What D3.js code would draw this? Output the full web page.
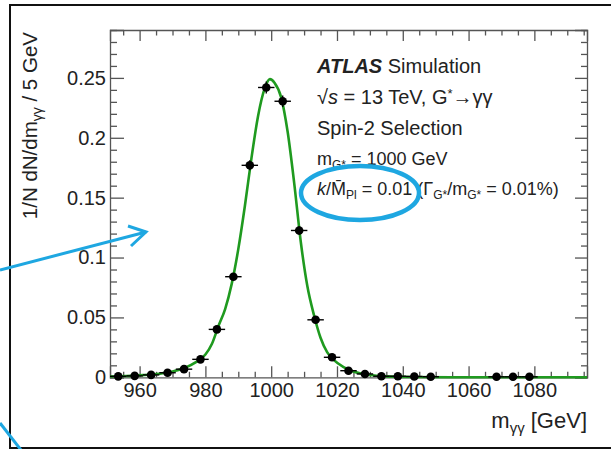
<!DOCTYPE html>
<html>
<head>
<meta charset="utf-8">
<script src="https://cdn.jsdelivr.net/npm/d3@7"></script>
<style>
  body { margin: 0; background: #fff; }
  svg { display: block; font-family: "Liberation Sans", Arial, sans-serif; }
  .axis path, .axis line { stroke: #555; stroke-width: 1.3; }
  .axis text { font-size: 20px; fill: #222; font-family: "Liberation Sans", Arial, sans-serif; }
</style>
</head>
<body>
<svg id="chart" width="611" height="449"></svg>
<script>
// binned points (5 GeV bins)
const binCenters = [953.5, 958.5, 963.5, 968.5, 973.5, 978.5, 983.5, 988.5, 993.5, 998.5, 1003.5, 1008.5,
  1013.5, 1018.5, 1023.5, 1028.5, 1033.5, 1038.5, 1043.5, 1048.5, 1068.5, 1073.5, 1078.5];
const binValues = [0.0008, 0.0012, 0.002, 0.0038, 0.0068, 0.015, 0.040, 0.084, 0.177, 0.242, 0.2305, 0.1226,
  0.048, 0.0167, 0.0055, 0.0028, 0.0009, 0.0009, 0.0007, 0.0005, 0.0004, 0.0004, 0.0004];
const binErrors = [0.0003, 0.0004, 0.0005, 0.0007, 0.0009, 0.0013, 0.002, 0.003, 0.0042, 0.005, 0.0048, 0.0035,
  0.0022, 0.0013, 0.0007, 0.0005, 0.0003, 0.0003, 0.0003, 0.0002, 0.0002, 0.0002, 0.0002];
const binHalfWidth = 2.5;

// fitted signal shape
const curveX = [951, 956, 961, 966, 970, 974, 977, 980, 982, 984, 986, 988, 990, 992, 994, 996, 998, 999.6,
  1001, 1003, 1005, 1007, 1009, 1011, 1013, 1015, 1017, 1019, 1022, 1025, 1030, 1035, 1042, 1055, 1096];
const curveY = [0.0007, 0.0011, 0.0018, 0.003, 0.0048, 0.0082, 0.0125, 0.019, 0.028, 0.043, 0.057, 0.078,
  0.107, 0.143, 0.183, 0.218, 0.241, 0.249, 0.246, 0.234, 0.205, 0.162, 0.113, 0.076, 0.052, 0.033, 0.021,
  0.0145, 0.0085, 0.0048, 0.0019, 0.0008, 0.0003, 0.0001, 0.00002];

const xMajor = [960, 980, 1000, 1020, 1040, 1060, 1080];
const xMinor = [955, 965, 970, 975, 985, 990, 995, 1005, 1010, 1015, 1025, 1030, 1035, 1045, 1050, 1055,
  1065, 1070, 1075, 1085, 1090, 1095];
const yMajor = [0, 0.05, 0.1, 0.15, 0.2, 0.25];
const yLabels = ["0", "0.05", "0.1", "0.15", "0.2", "0.25"];
const yMinor = [0.01, 0.02, 0.03, 0.04, 0.06, 0.07, 0.08, 0.09, 0.11, 0.12, 0.13, 0.14, 0.16, 0.17, 0.18,
  0.19, 0.21, 0.22, 0.23, 0.24, 0.26, 0.27, 0.28, 0.29];

const svg = d3.select('#chart');
const plotLeft = 110, plotRight = 587, plotTop = 30, plotBottom = 377.3;

const x = d3.scaleLinear().domain([951, 1096]).range([plotLeft, plotRight]);
const y = d3.scaleLinear().domain([0, 0.29]).range([plotBottom, plotTop]);

// outer frame of the slide picture
svg.append('rect')
  .attr('x', 10).attr('y', 5).attr('width', 640).attr('height', 443)
  .attr('fill', 'none').attr('stroke', '#111').attr('stroke-width', 2);

// axes
function addAxis(axis, tx, ty) {
  return svg.append('g').attr('class', 'axis').attr('transform', `translate(${tx},${ty})`).call(axis);
}
addAxis(d3.axisBottom(x).tickValues(xMajor).tickSize(-11).tickPadding(6).tickFormat(d3.format('d')), 0, plotBottom);
addAxis(d3.axisBottom(x).tickValues(xMinor).tickSize(-5.5).tickFormat(''), 0, plotBottom).select('.domain').remove();
addAxis(d3.axisTop(x).tickValues(xMajor).tickSize(-11).tickFormat(''), 0, plotTop);
addAxis(d3.axisTop(x).tickValues(xMinor).tickSize(-5.5).tickFormat(''), 0, plotTop).select('.domain').remove();
addAxis(d3.axisLeft(y).tickValues(yMajor).tickSize(-14).tickPadding(4).tickFormat((d, i) => yLabels[i]), plotLeft, 0);
addAxis(d3.axisLeft(y).tickValues(yMinor).tickSize(-7).tickFormat(''), plotLeft, 0).select('.domain').remove();
addAxis(d3.axisRight(y).tickValues(yMajor).tickSize(-12).tickFormat(''), plotRight, 0);
addAxis(d3.axisRight(y).tickValues(yMinor).tickSize(-6).tickFormat(''), plotRight, 0).select('.domain').remove();
svg.selectAll('.axis .domain').attr('stroke', '#555').attr('stroke-width', 1.5);

// green fit curve
const line = d3.line()
  .x((d, i) => x(curveX[i]))
  .y(d => y(d))
  .curve(d3.curveMonotoneX);
svg.append('path')
  .datum(curveY)
  .attr('d', line)
  .attr('fill', 'none')
  .attr('stroke', '#1f9a1f')
  .attr('stroke-width', 2.6);

// points with error bars
const pts = svg.append('g');
binCenters.forEach((c, i) => {
  pts.append('line')
    .attr('x1', x(c - binHalfWidth)).attr('x2', x(c + binHalfWidth))
    .attr('y1', y(binValues[i])).attr('y2', y(binValues[i]))
    .attr('stroke', '#000').attr('stroke-width', 1.4);
  pts.append('line')
    .attr('x1', x(c)).attr('x2', x(c))
    .attr('y1', y(binValues[i] - binErrors[i])).attr('y2', y(binValues[i] + binErrors[i]))
    .attr('stroke', '#000').attr('stroke-width', 1.4);
  pts.append('circle')
    .attr('cx', x(c)).attr('cy', y(binValues[i])).attr('r', 4.3)
    .attr('fill', '#000');
});

// axis titles
svg.append('text')
  .attr('transform', 'translate(37,32) rotate(-90)')
  .attr('text-anchor', 'end')
  .style('font-size', '20.5px').attr('fill', '#222')
  .html('1/N dN/dm<tspan font-size="14" dy="5">γγ</tspan><tspan dy="-5"> / 5 GeV</tspan>');

svg.append('text')
  .attr('x', plotRight).attr('y', 428)
  .attr('text-anchor', 'end')
  .style('font-size', '22px').attr('fill', '#222')
  .html('m<tspan font-size="15" dy="5">γγ</tspan><tspan dy="-5"> [GeV]</tspan>');

// labels
const tx = 317;
const lab = svg.append('g').style('font-size', '20px').attr('fill', '#222');
lab.append('text').attr('x', tx).attr('y', 73)
  .html('<tspan font-weight="bold" font-style="italic">ATLAS</tspan> Simulation');
lab.append('text').attr('x', tx).attr('y', 104)
  .html('√<tspan font-style="italic">s</tspan> = 13 TeV, G<tspan font-size="13" dy="-6">*</tspan><tspan dy="6">→γγ</tspan>');
lab.append('text').attr('x', tx).attr('y', 135).text('Spin-2 Selection');
lab.append('text').attr('x', tx).attr('y', 165).style('font-size', '18px')
  .html('m<tspan font-size="12" dy="4">G*</tspan><tspan dy="-4"> = 1000 GeV</tspan>');
lab.append('text').attr('x', tx).attr('y', 195).style('font-size', '18px')
  .html('<tspan font-style="italic">k</tspan>/M\u0304<tspan font-size="12" dy="4">Pl</tspan><tspan dy="-4"> = 0.01 (Γ</tspan><tspan font-size="12" dy="4">G*</tspan><tspan dy="-4">/m</tspan><tspan font-size="12" dy="4">G*</tspan><tspan dy="-4"> = 0.01%)</tspan>');

// blue annotations
const blue = '#1ea7e1';
svg.append('ellipse')
  .attr('cx', 360).attr('cy', 193).attr('rx', 59).attr('ry', 27)
  .attr('fill', 'none').attr('stroke', blue).attr('stroke-width', 4.5);
svg.append('line')
  .attr('x1', 0).attr('y1', 270).attr('x2', 146).attr('y2', 232)
  .attr('stroke', blue).attr('stroke-width', 3);
svg.append('path')
  .attr('d', 'M128,226 L146,232 L131,246')
  .attr('fill', 'none').attr('stroke', blue).attr('stroke-width', 3).attr('stroke-linejoin', 'miter');
svg.append('line')
  .attr('x1', 0).attr('y1', 423).attr('x2', 21).attr('y2', 450)
  .attr('stroke', blue).attr('stroke-width', 3);
</script>
</body>
</html>
